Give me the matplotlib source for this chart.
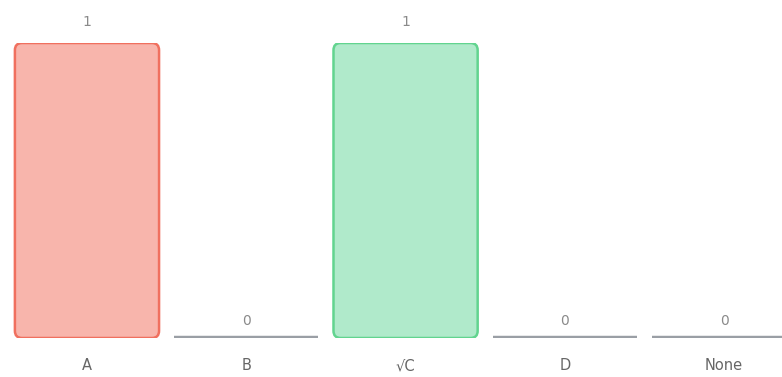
import matplotlib
matplotlib.use("Agg")
import matplotlib.pyplot as plt
from matplotlib.patches import FancyBboxPatch

categories = ["A", "B", "\u221aC", "D", "None"]
values = [1, 0, 1, 0, 0]
fills = ["#f8b5ac", None, "#b0eacb", None, None]
edges = ["#f0705f", "#9a9fa5", "#62d48f", "#9a9fa5", "#9a9fa5"]

fig = plt.figure(figsize=(7.82, 3.77), dpi=100)
ax = fig.add_axes([0, (377 - 338) / 377, 1, 295 / 377])
ax.set_xlim(-0.546, 4.363)
ax.set_ylim(0, 1)
ax.axis("off")

w = 0.905
for i, (cat, v) in enumerate(zip(categories, values)):
    if v > 0:
        p = FancyBboxPatch((i - w / 2, 0), w, v,
                           boxstyle="round,pad=0,rounding_size=0.045",
                           mutation_aspect=0.54,
                           facecolor=fills[i], edgecolor=edges[i], linewidth=1.8)
        ax.add_patch(p)
    else:
        ax.hlines(v, i - w / 2, i + w / 2, color=edges[i], linewidth=3.2)
    ax.annotate(str(v), (i, v), xytext=(0, 10 if v > 0 else 7),
                textcoords="offset points", ha="center", va="bottom",
                fontsize=10, color="#8a8a8a")
    ax.annotate(cat, (i, 0), xytext=(0, -20), textcoords="offset points",
                ha="center", va="center", fontsize=10.5, color="#666666")

fig.savefig("out.png", dpi=100)
